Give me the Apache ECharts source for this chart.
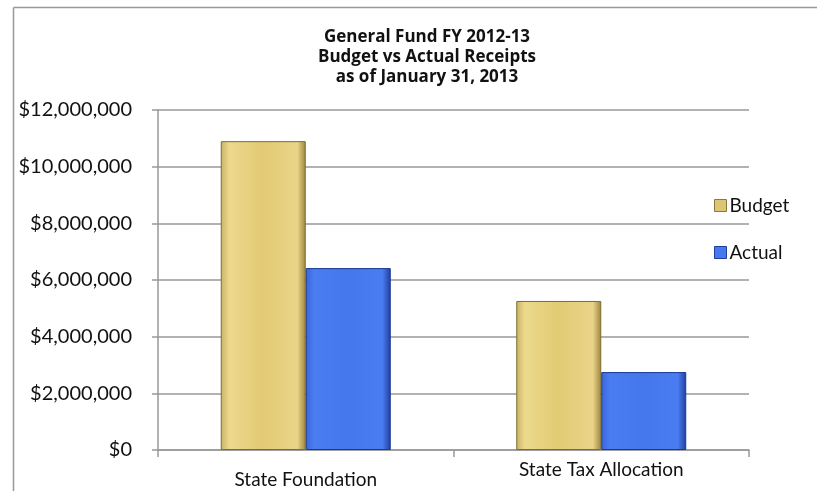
<!DOCTYPE html>
<html>
<head>
<meta charset="utf-8">
<script src="https://cdn.jsdelivr.net/npm/echarts@6/dist/echarts.min.js"></script>
<style>
html,body{margin:0;padding:0;background:#fff;overflow:hidden;}
#c{width:817px;height:491px;}
</style>
</head>
<body>
<div id="c"></div>
<script>
var categories = ['State Foundation', 'State Tax Allocation'];
var budget = [10900000, 5260000];
var actual = [6420000, 2750000];
var yTicks = { min: 0, max: 12000000, interval: 2000000 };

var chart = echarts.init(document.getElementById('c'));
var gold = {
  type: 'linear', x: 0, y: 0, x2: 1, y2: 0,
  colorStops: [
    { offset: 0, color: '#c9b266' },
    { offset: 0.1, color: '#ecd98c' },
    { offset: 0.5, color: '#e3ca74' },
    { offset: 0.9, color: '#e9d488' },
    { offset: 1, color: '#9c8540' }
  ]
};
var blue = {
  type: 'linear', x: 0, y: 0, x2: 1, y2: 0,
  colorStops: [
    { offset: 0, color: '#3b66d8' },
    { offset: 0.1, color: '#4a7cf2' },
    { offset: 0.5, color: '#4476ec' },
    { offset: 0.9, color: '#4a7cf2' },
    { offset: 1, color: '#1f3f9c' }
  ]
};
var fmt = function (v) {
  return '$' + v.toString().replace(/\B(?=(\d{3})+(?!\d))/g, ',');
};
chart.setOption({
  animation: false,
  textStyle: { fontFamily: 'Lato' },
  title: {
    text: 'General Fund FY 2012-13\nBudget vs Actual Receipts\nas of January 31, 2013',
    left: 422, top: 22, textAlign: 'center',
    textStyle: { fontFamily: 'Open Sans', fontSize: 17, fontWeight: 'bold', color: '#111', lineHeight: 20 }
  },
  graphic: [
    { type: 'line', shape: { x1: 13.5, y1: 7.5, x2: 13.5, y2: 495 },
      style: { stroke: '#999', lineWidth: 1.5 }, silent: true, z: -10 },
    { type: 'line', shape: { x1: 13.5, y1: 7.5, x2: 830, y2: 7.5 },
      style: { stroke: '#999', lineWidth: 1.5 }, silent: true, z: -10 }
  ],
  legend: {
    orient: 'vertical', left: 709, top: 191, itemGap: 28,
    itemWidth: 12, itemHeight: 12, icon: 'rect',
    textStyle: { fontFamily: 'Lato', fontSize: 19, color: '#111', padding: [0, 0, 0, -2] },
    data: [
      { name: 'Budget', itemStyle: { color: '#dcc575', borderColor: '#8a7a3a', borderWidth: 1 } },
      { name: 'Actual', itemStyle: { color: '#4678ee', borderColor: '#1f3f9c', borderWidth: 1 } }
    ]
  },
  grid: { left: 158, right: 68, top: 110, bottom: 41 },
  xAxis: {
    type: 'category', data: categories,
    axisLine: { lineStyle: { color: '#999', width: 1.5 } },
    axisTick: { show: true, length: 7, lineStyle: { color: '#999', width: 1.5 } },
    axisLabel: {
      fontFamily: 'Lato', fontSize: 19, color: '#111', margin: 10,
      formatter: function (v, i) { return i === 0 ? '{a|' + v + '}' : '{b|' + v + '}'; },
      rich: {
        a: { fontFamily: 'Lato', fontSize: 19, color: '#111', padding: [10, 0, 0, 0] },
        b: { fontFamily: 'Lato', fontSize: 19, color: '#111', padding: [0, 0, 0, 0] }
      }
    }
  },
  yAxis: {
    type: 'value', min: yTicks.min, max: yTicks.max, interval: yTicks.interval,
    axisLine: { show: true, lineStyle: { color: '#999', width: 1.5 } },
    axisTick: { show: true, length: 6, lineStyle: { color: '#999', width: 1.5 } },
    splitLine: { lineStyle: { color: '#999', width: 1.5 } },
    axisLabel: { fontFamily: 'Lato', fontSize: 20, color: '#111', margin: 26, formatter: fmt }
  },
  series: [
    {
      name: 'Budget', type: 'bar', data: budget, barWidth: 85, barGap: '0%',
      itemStyle: { color: gold, borderColor: '#7d6c30', borderWidth: 1 }
    },
    {
      name: 'Actual', type: 'bar', data: actual, barWidth: 85,
      itemStyle: { color: blue, borderColor: '#183a8f', borderWidth: 1 }
    }
  ]
});
</script>
</body>
</html>
